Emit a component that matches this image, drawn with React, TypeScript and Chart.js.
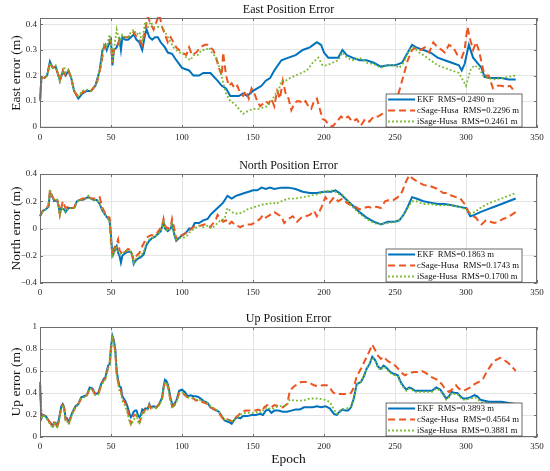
import React, { useEffect, useRef } from 'react';
import { Chart, registerables } from 'chart.js';

Chart.register(...registerables);

const FONT = "'Liberation Serif', 'Times New Roman', serif";
const BLUE = '#0072BD';
const ORANGE = '#EC5420';
const GREEN = '#77B82C';
const AXIS = '#6e6e6e';
const GRID = '#e4e4e4';
const TEXT = '#262626';

const seriesNames = ['EKF', 'cSage-Husa', 'iSage-Husa'];
const xTicks = [0, 50, 100, 150, 200, 250, 300, 350];
const eastTicks = [0, 0.1, 0.2, 0.3, 0.4];
const northTicks = [-0.4, -0.2, 0, 0.2, 0.4];
const upTicks = [0, 0.2, 0.4, 0.6, 0.8, 1];

const eastRms = [0.249, 0.2296, 0.2461];
const northRms = [0.1863, 0.1743, 0.17];
const upRms = [0.3893, 0.4564, 0.3881];

// [epoch, error in m]
const eastEkf: [number, number][] = [[0,0.1],[1,0.19],[3,0.19],[5,0.2],[7,0.255],[9,0.23],[11,0.235],[13,0.2],[14,0.18],[16,0.215],[18,0.2],[20,0.22],[22,0.19],[24,0.14],[26,0.12],[27,0.11],[30,0.13],[33,0.14],[36,0.14],[39,0.16],[42,0.22],[44,0.3],[46,0.32],[47,0.3],[49,0.33],[50,0.34],[51,0.24],[52,0.3],[54,0.31],[56,0.34],[57,0.3],[58,0.35],[60,0.34],[62,0.34],[64,0.35],[66,0.36],[68,0.34],[70,0.33],[72,0.3],[74,0.36],[75,0.38],[77,0.35],[79,0.34],[81,0.35],[83,0.35],[85,0.33],[88,0.31],[90,0.29],[93,0.285],[96,0.26],[100,0.23],[105,0.22],[108,0.2],[112,0.2],[115,0.21],[120,0.21],[125,0.18],[128,0.16],[131,0.15],[134,0.12],[137,0.12],[140,0.12],[143,0.13],[146,0.12],[150,0.14],[153,0.15],[156,0.16],[159,0.18],[162,0.19],[165,0.22],[170,0.26],[175,0.27],[180,0.28],[185,0.3],[190,0.31],[195,0.33],[198,0.32],[200,0.29],[203,0.27],[206,0.27],[210,0.27],[213,0.3],[216,0.28],[220,0.27],[225,0.26],[230,0.26],[235,0.25],[240,0.235],[245,0.24],[250,0.24],[255,0.25],[258,0.28],[262,0.32],[265,0.31],[270,0.3],[275,0.29],[280,0.27],[285,0.26],[290,0.25],[295,0.24],[297,0.22],[299,0.245],[302,0.32],[305,0.27],[308,0.25],[311,0.23],[313,0.195],[317,0.19],[320,0.19],[325,0.19],[330,0.185],[335,0.185]];
const eastCsage: [number, number][] = [[0,0.1],[1,0.19],[3,0.19],[5,0.2],[7,0.25],[9,0.23],[11,0.235],[13,0.2],[14,0.18],[16,0.22],[18,0.2],[20,0.22],[22,0.19],[24,0.14],[27,0.115],[30,0.135],[33,0.14],[36,0.14],[40,0.17],[43,0.24],[45,0.31],[47,0.33],[49,0.34],[50,0.33],[51,0.25],[52,0.3],[54,0.31],[56,0.34],[58,0.35],[60,0.35],[62,0.35],[64,0.36],[66,0.37],[68,0.35],[70,0.34],[72,0.32],[74,0.38],[76,0.43],[78,0.4],[80,0.38],[82,0.41],[84,0.44],[86,0.39],[88,0.36],[90,0.33],[92,0.35],[94,0.33],[96,0.31],[98,0.3],[100,0.29],[103,0.28],[105,0.31],[107,0.28],[110,0.29],[113,0.31],[116,0.32],[118,0.32],[120,0.31],[122,0.3],[124,0.27],[126,0.23],[128,0.2],[129,0.29],[131,0.2],[133,0.16],[135,0.17],[137,0.15],[139,0.16],[141,0.13],[143,0.12],[145,0.14],[147,0.11],[149,0.15],[151,0.13],[153,0.1],[155,0.08],[157,0.09],[159,0.1],[161,0.09],[163,0.11],[165,0.08],[167,0.14],[169,0.11],[171,0.18],[173,0.13],[175,0.11],[177,0.065],[179,0.09],[181,0.1],[183,0.1],[185,0.09],[187,0.1],[189,0.08],[191,0.07],[193,0.1],[195,0.11],[197,0.07],[199,0.03],[201,0.025],[203,0.01],[206,0],[209,0.02],[212,0.04],[214,0.03],[217,0.04],[220,0.02],[223,0.03],[226,0.005],[229,0.03],[232,0.02],[235,0.04],[238,0.04],[241,0.05],[244,0.06],[247,0.07],[250,0.09],[253,0.14],[256,0.2],[259,0.26],[262,0.3],[265,0.31],[268,0.3],[271,0.31],[274,0.29],[277,0.33],[280,0.31],[283,0.3],[285,0.29],[288,0.32],[291,0.31],[294,0.28],[297,0.27],[299,0.3],[301,0.39],[303,0.34],[305,0.3],[307,0.33],[309,0.3],[311,0.25],[313,0.2],[316,0.2],[319,0.15],[322,0.16],[325,0.16],[328,0.155],[331,0.16],[334,0.14]];
const eastIsage: [number, number][] = [[0,0.1],[1,0.19],[3,0.19],[5,0.2],[7,0.25],[9,0.23],[11,0.24],[13,0.2],[14,0.18],[17,0.235],[18,0.21],[20,0.22],[22,0.19],[24,0.14],[27,0.12],[30,0.14],[33,0.145],[36,0.14],[40,0.17],[43,0.25],[45,0.32],[47,0.31],[49,0.36],[50,0.33],[51,0.25],[52,0.3],[54,0.38],[56,0.33],[58,0.36],[60,0.35],[62,0.35],[64,0.37],[66,0.38],[68,0.36],[70,0.37],[72,0.33],[74,0.41],[76,0.39],[78,0.41],[80,0.39],[83,0.39],[86,0.39],[88,0.37],[90,0.35],[92,0.33],[94,0.31],[96,0.3],[98,0.29],[100,0.29],[103,0.27],[106,0.26],[108,0.28],[111,0.28],[114,0.3],[117,0.3],[119,0.31],[121,0.29],[124,0.27],[127,0.22],[129,0.17],[131,0.13],[134,0.1],[137,0.09],[140,0.07],[143,0.05],[146,0.06],[150,0.07],[154,0.07],[157,0.075],[160,0.08],[163,0.1],[166,0.13],[168,0.14],[170,0.18],[173,0.18],[176,0.19],[180,0.2],[184,0.21],[188,0.22],[192,0.25],[196,0.27],[199,0.24],[202,0.24],[206,0.25],[210,0.26],[213,0.29],[216,0.27],[220,0.26],[225,0.27],[230,0.25],[235,0.245],[240,0.23],[245,0.24],[250,0.24],[253,0.23],[256,0.25],[260,0.3],[263,0.31],[267,0.29],[270,0.28],[275,0.26],[280,0.24],[285,0.23],[290,0.22],[295,0.21],[300,0.16],[303,0.22],[306,0.24],[309,0.23],[312,0.2],[315,0.19],[320,0.185],[325,0.19],[330,0.195],[335,0.2]];

const northEkf: [number, number][] = [[0,0.09],[2,0.13],[4,0.14],[6,0.16],[7,0.26],[8,0.25],[10,0.2],[12,0.21],[13,0.17],[14,0.11],[15,0.15],[17,0.14],[18,0.12],[20,0.15],[22,0.15],[24,0.15],[26,0.2],[28,0.21],[30,0.21],[32,0.22],[34,0.23],[36,0.22],[38,0.21],[40,0.21],[42,0.18],[44,0.13],[46,0.1],[48,0.07],[49,0.06],[50,-0.05],[51,-0.2],[52,-0.18],[53,-0.15],[54,-0.13],[55,-0.18],[56,-0.2],[57,-0.25],[58,-0.2],[60,-0.18],[62,-0.17],[64,-0.17],[65,-0.2],[66,-0.26],[67,-0.24],[69,-0.22],[71,-0.21],[73,-0.19],[75,-0.12],[77,-0.09],[79,-0.07],[81,-0.06],[83,-0.04],[85,-0.02],[87,0.05],[88,0],[90,-0.02],[92,0],[93,0.03],[95,-0.06],[96,-0.09],[98,-0.07],[100,-0.05],[103,-0.03],[105,0],[107,0],[109,0.04],[112,0.04],[115,0.06],[118,0.07],[120,0.1],[123,0.13],[126,0.16],[129,0.19],[132,0.24],[135,0.22],[138,0.24],[141,0.25],[144,0.26],[147,0.27],[150,0.28],[153,0.28],[156,0.3],[159,0.29],[162,0.3],[165,0.29],[170,0.3],[175,0.3],[180,0.29],[185,0.27],[190,0.26],[195,0.26],[200,0.27],[205,0.27],[208,0.28],[211,0.26],[214,0.23],[217,0.2],[220,0.17],[225,0.12],[230,0.08],[235,0.05],[240,0.03],[245,0.05],[250,0.05],[253,0.06],[256,0.1],[259,0.16],[262,0.23],[265,0.22],[270,0.2],[275,0.19],[280,0.18],[285,0.18],[290,0.17],[295,0.16],[300,0.15],[303,0.09],[306,0.1],[310,0.12],[315,0.14],[320,0.16],[325,0.18],[330,0.2],[335,0.22]];
const northCsage: [number, number][] = [[0,0.09],[2,0.13],[4,0.14],[6,0.17],[7,0.28],[8,0.25],[10,0.21],[12,0.22],[13,0.17],[14,0.1],[16,0.2],[18,0.15],[20,0.16],[22,0.15],[24,0.15],[26,0.2],[28,0.21],[30,0.22],[32,0.22],[34,0.23],[36,0.22],[38,0.22],[40,0.22],[42,0.23],[44,0.15],[47,0.09],[49,0.08],[50,-0.1],[51,-0.2],[52,-0.15],[54,-0.11],[55,-0.08],[56,-0.16],[58,-0.19],[60,-0.17],[62,-0.15],[64,-0.16],[66,-0.23],[68,-0.2],[70,-0.18],[72,-0.13],[74,-0.09],[76,-0.06],[78,-0.05],[80,-0.05],[82,-0.04],[84,-0.01],[86,0.02],[87,0.07],[88,0.02],[90,0],[92,0.01],[93,0.07],[95,-0.02],[96,-0.08],[98,-0.05],[100,-0.05],[102,-0.04],[104,-0.01],[106,-0.01],[108,0.01],[110,0.02],[113,0.02],[116,0.03],[118,0.02],[120,0.01],[122,0.04],[124,0.07],[125,0.1],[127,0.07],[129,0.05],[131,0.06],[133,0.03],[135,0.05],[137,0.03],[139,0.02],[141,0.01],[143,0.02],[146,0.03],[149,0.03],[152,0.05],[155,0.07],[157,0.1],[159,0.08],[162,0.1],[165,0.12],[168,0.1],[170,0.09],[172,0.04],[175,0.07],[178,0.09],[181,0.05],[184,0.08],[187,0.09],[190,0.1],[193,0.13],[195,0.09],[198,0.15],[201,0.23],[204,0.19],[207,0.23],[210,0.2],[213,0.22],[216,0.19],[219,0.17],[222,0.16],[225,0.14],[228,0.15],[231,0.16],[234,0.15],[237,0.16],[240,0.15],[243,0.2],[246,0.21],[249,0.21],[252,0.23],[255,0.27],[258,0.35],[260,0.39],[262,0.37],[265,0.35],[270,0.32],[275,0.31],[280,0.29],[284,0.26],[287,0.26],[290,0.24],[293,0.23],[296,0.22],[299,0.18],[302,0.12],[305,0.09],[307,0.08],[309,0.05],[311,0.03],[314,0.06],[317,0.05],[320,0.04],[323,0.05],[326,0.07],[329,0.08],[332,0.1],[335,0.12]];
const northIsage: [number, number][] = [[0,0.09],[2,0.13],[4,0.14],[6,0.17],[7,0.29],[8,0.25],[10,0.21],[12,0.21],[13,0.17],[14,0.1],[15,0.15],[17,0.14],[18,0.12],[20,0.15],[22,0.15],[24,0.15],[26,0.2],[28,0.21],[30,0.21],[32,0.22],[34,0.24],[36,0.22],[38,0.21],[40,0.21],[42,0.18],[44,0.13],[46,0.1],[48,0.07],[49,0.06],[50,-0.08],[51,-0.21],[52,-0.18],[53,-0.15],[54,-0.13],[55,-0.17],[56,-0.19],[58,-0.18],[60,-0.17],[62,-0.16],[64,-0.17],[65,-0.2],[66,-0.25],[67,-0.23],[69,-0.21],[71,-0.2],[73,-0.17],[75,-0.11],[77,-0.08],[79,-0.07],[81,-0.06],[83,-0.04],[85,-0.02],[87,0.06],[88,0.01],[90,-0.02],[92,0],[93,0.04],[95,-0.05],[96,-0.08],[98,-0.07],[100,-0.07],[103,-0.06],[106,-0.02],[109,0],[112,0.02],[115,0.01],[118,0.02],[121,0],[124,0.03],[127,0.06],[130,0.07],[132,0.15],[134,0.13],[137,0.11],[140,0.11],[143,0.12],[146,0.14],[149,0.15],[152,0.16],[155,0.17],[158,0.18],[161,0.18],[164,0.19],[166,0.18],[170,0.2],[175,0.22],[180,0.22],[185,0.23],[190,0.24],[195,0.25],[200,0.27],[205,0.28],[208,0.27],[211,0.25],[214,0.24],[217,0.2],[220,0.16],[225,0.11],[230,0.07],[235,0.04],[240,0.03],[245,0.04],[250,0.05],[253,0.06],[256,0.1],[259,0.15],[262,0.2],[265,0.2],[270,0.18],[275,0.18],[280,0.17],[285,0.17],[290,0.17],[295,0.16],[300,0.14],[303,0.11],[306,0.12],[310,0.15],[315,0.18],[320,0.2],[325,0.22],[330,0.24],[335,0.26]];

const upEkf: [number, number][] = [[0,0.49],[1,0.17],[2,0.2],[4,0.19],[6,0.15],[8,0.12],[9,0.1],[10,0.13],[11,0.13],[12,0.1],[13,0.14],[15,0.28],[16,0.3],[17,0.27],[18,0.17],[19,0.17],[20,0.14],[21,0.16],[23,0.23],[25,0.28],[27,0.3],[29,0.36],[31,0.37],[33,0.38],[35,0.45],[37,0.44],[39,0.39],[41,0.4],[43,0.48],[45,0.53],[46,0.54],[47,0.6],[48,0.65],[49,0.66],[50,0.82],[51,0.92],[52,0.88],[53,0.8],[54,0.6],[55,0.52],[56,0.46],[57,0.45],[58,0.37],[59,0.35],[60,0.33],[61,0.3],[62,0.26],[63,0.21],[64,0.18],[65,0.2],[66,0.23],[67,0.24],[68,0.24],[69,0.2],[70,0.18],[71,0.2],[72,0.25],[73,0.24],[74,0.26],[76,0.26],[77,0.3],[78,0.27],[80,0.28],[82,0.27],[84,0.3],[86,0.36],[87,0.45],[88,0.52],[89,0.51],[90,0.48],[91,0.42],[92,0.35],[93,0.3],[94,0.29],[96,0.33],[98,0.42],[100,0.43],[102,0.41],[104,0.37],[106,0.38],[108,0.37],[110,0.37],[112,0.36],[114,0.34],[116,0.32],[118,0.31],[120,0.27],[123,0.25],[126,0.23],[128,0.19],[130,0.15],[132,0.14],[134,0.13],[135,0.12],[137,0.16],[139,0.18],[141,0.17],[143,0.19],[146,0.19],[149,0.2],[152,0.2],[155,0.21],[157,0.2],[159,0.24],[161,0.25],[163,0.22],[165,0.24],[168,0.24],[171,0.23],[174,0.23],[177,0.24],[180,0.25],[183,0.25],[186,0.27],[189,0.27],[192,0.27],[195,0.28],[198,0.27],[201,0.28],[204,0.26],[207,0.21],[209,0.2],[211,0.23],[213,0.25],[215,0.24],[217,0.24],[219,0.27],[221,0.35],[223,0.48],[226,0.5],[228,0.55],[230,0.62],[232,0.66],[234,0.73],[236,0.7],[238,0.64],[240,0.62],[242,0.65],[244,0.63],[246,0.6],[248,0.58],[250,0.57],[252,0.56],[254,0.5],[256,0.46],[258,0.43],[260,0.45],[262,0.44],[264,0.42],[267,0.42],[270,0.42],[273,0.42],[276,0.42],[279,0.45],[282,0.43],[284,0.39],[286,0.35],[288,0.37],[290,0.41],[292,0.4],[294,0.4],[296,0.37],[298,0.35],[300,0.35],[303,0.36],[306,0.38],[308,0.37],[310,0.34],[313,0.33],[316,0.32],[320,0.32],[325,0.32],[330,0.31],[335,0.3]];
const upCsage: [number, number][] = [[0,0.5],[1,0.18],[2,0.2],[4,0.19],[6,0.15],[8,0.11],[9,0.09],[10,0.13],[11,0.12],[12,0.08],[13,0.13],[15,0.27],[16,0.29],[17,0.26],[18,0.16],[19,0.16],[20,0.12],[21,0.15],[23,0.22],[25,0.27],[27,0.3],[29,0.35],[31,0.37],[33,0.38],[35,0.44],[37,0.43],[39,0.38],[41,0.39],[43,0.47],[45,0.52],[46,0.53],[47,0.58],[48,0.63],[49,0.65],[50,0.8],[51,0.9],[52,0.87],[53,0.78],[54,0.58],[55,0.5],[56,0.44],[57,0.42],[58,0.35],[59,0.33],[60,0.31],[61,0.28],[62,0.22],[63,0.16],[64,0.12],[65,0.15],[66,0.2],[67,0.2],[68,0.2],[69,0.15],[70,0.13],[71,0.17],[72,0.22],[73,0.22],[74,0.25],[76,0.25],[77,0.29],[78,0.26],[80,0.27],[82,0.27],[84,0.3],[86,0.35],[87,0.44],[88,0.51],[89,0.5],[90,0.46],[91,0.4],[92,0.33],[93,0.28],[94,0.28],[96,0.32],[98,0.4],[100,0.41],[102,0.38],[104,0.36],[106,0.36],[108,0.35],[110,0.33],[112,0.34],[114,0.32],[116,0.31],[118,0.3],[120,0.27],[123,0.25],[126,0.22],[128,0.18],[130,0.15],[132,0.16],[134,0.15],[136,0.14],[138,0.18],[140,0.2],[142,0.23],[145,0.24],[148,0.24],[151,0.24],[154,0.25],[156,0.23],[158,0.27],[160,0.29],[163,0.27],[165,0.29],[168,0.28],[171,0.27],[174,0.3],[176,0.42],[178,0.45],[181,0.48],[184,0.5],[187,0.5],[190,0.49],[193,0.47],[196,0.46],[199,0.47],[202,0.47],[204,0.45],[206,0.41],[208,0.39],[211,0.39],[214,0.39],[217,0.39],[219,0.4],[221,0.45],[223,0.55],[226,0.62],[229,0.7],[232,0.78],[234,0.84],[236,0.79],[238,0.74],[240,0.71],[242,0.73],[245,0.69],[248,0.67],[251,0.64],[254,0.59],[257,0.56],[260,0.58],[263,0.59],[266,0.59],[269,0.6],[272,0.58],[275,0.55],[278,0.53],[280,0.52],[283,0.48],[285,0.44],[288,0.41],[291,0.44],[293,0.47],[295,0.44],[298,0.42],[300,0.43],[303,0.45],[306,0.48],[309,0.5],[312,0.53],[315,0.6],[318,0.66],[321,0.7],[324,0.72],[327,0.7],[330,0.67],[333,0.63],[335,0.6]];
const upIsage: [number, number][] = [[0,0.49],[1,0.17],[2,0.2],[4,0.18],[6,0.14],[8,0.1],[9,0.08],[10,0.12],[11,0.12],[12,0.08],[13,0.12],[15,0.26],[16,0.29],[17,0.25],[18,0.15],[19,0.15],[20,0.11],[21,0.14],[23,0.22],[25,0.27],[27,0.29],[29,0.35],[31,0.36],[33,0.37],[35,0.44],[37,0.43],[39,0.38],[41,0.38],[43,0.46],[45,0.51],[46,0.52],[47,0.57],[48,0.63],[49,0.64],[50,0.8],[51,0.9],[52,0.86],[53,0.77],[54,0.56],[55,0.48],[56,0.42],[57,0.4],[58,0.33],[59,0.31],[60,0.28],[61,0.24],[62,0.2],[63,0.14],[64,0.11],[65,0.13],[66,0.15],[67,0.19],[68,0.2],[69,0.14],[70,0.12],[71,0.15],[72,0.21],[73,0.21],[74,0.24],[76,0.25],[77,0.28],[78,0.26],[80,0.27],[82,0.26],[84,0.29],[86,0.34],[87,0.43],[88,0.5],[89,0.49],[90,0.45],[91,0.39],[92,0.32],[93,0.27],[94,0.27],[96,0.31],[98,0.39],[100,0.41],[102,0.38],[104,0.36],[106,0.36],[108,0.35],[110,0.34],[112,0.34],[114,0.33],[116,0.32],[118,0.31],[120,0.28],[123,0.26],[126,0.23],[128,0.19],[130,0.16],[132,0.16],[134,0.15],[136,0.14],[138,0.17],[140,0.19],[142,0.21],[145,0.22],[148,0.22],[151,0.22],[154,0.23],[156,0.22],[158,0.26],[160,0.27],[163,0.25],[166,0.27],[168,0.28],[171,0.28],[174,0.29],[176,0.34],[180,0.33],[185,0.33],[190,0.35],[195,0.35],[200,0.34],[204,0.32],[207,0.25],[209,0.21],[212,0.25],[216,0.26],[219,0.28],[221,0.36],[223,0.48],[226,0.5],[228,0.55],[230,0.62],[232,0.66],[234,0.72],[236,0.69],[238,0.63],[240,0.61],[242,0.64],[244,0.62],[246,0.59],[248,0.57],[250,0.56],[252,0.55],[254,0.49],[256,0.45],[258,0.42],[260,0.44],[262,0.43],[264,0.41],[267,0.41],[270,0.41],[273,0.41],[276,0.41],[279,0.44],[282,0.42],[284,0.38],[286,0.34],[288,0.36],[290,0.4],[292,0.39],[294,0.39],[296,0.36],[298,0.34],[300,0.34],[303,0.35],[306,0.36],[308,0.35],[310,0.32],[313,0.31],[316,0.3],[320,0.29],[325,0.3],[330,0.3],[335,0.29]];

type Pts = [number, number][];

interface PanelProps {
    title: string;
    yLabel: string;
    yMin: number;
    yMax: number;
    yTicks: number[];
    series: Pts[];
    rms: number[];
    xTitle?: string;
    top: number;
    height: number;
    padTop: number;
    xAxisH: number;
}

const fmt = (v: number) => String(Math.round(v * 10) / 10).replace('-', '\u2212');

function Panel(props: PanelProps) {
    const canvas = useRef<HTMLCanvasElement>(null);
    const { title, yLabel, yMin, yMax, yTicks, series, rms, xTitle, top, height, padTop, xAxisH } = props;

    useEffect(() => {
        const styles = [
            { color: BLUE, width: 2, dash: [] as number[], order: 3 },
            { color: ORANGE, width: 2, dash: [7, 4], order: 2 },
            { color: GREEN, width: 1.8, dash: [1.8, 2.2], order: 1 },
        ];

        const frame = {
            id: 'frame',
            afterDatasetsDraw(chart: any) {
                const { ctx, chartArea: a, scales } = chart;
                ctx.save();
                ctx.strokeStyle = AXIS;
                ctx.lineWidth = 1;
                ctx.strokeRect(a.left + 0.5, a.top + 0.5, a.width - 1, a.height - 1);
                ctx.beginPath();
                xTicks.forEach((v) => {
                    const px = Math.round(scales.x.getPixelForValue(v)) + 0.5;
                    ctx.moveTo(px, a.bottom); ctx.lineTo(px, a.bottom - 3);
                    ctx.moveTo(px, a.top); ctx.lineTo(px, a.top + 3);
                });
                yTicks.forEach((v) => {
                    const py = Math.round(scales.y.getPixelForValue(v)) + 0.5;
                    ctx.moveTo(a.left, py); ctx.lineTo(a.left + 3, py);
                    ctx.moveTo(a.right, py); ctx.lineTo(a.right - 3, py);
                });
                ctx.stroke();

                // title
                ctx.fillStyle = '#111';
                ctx.font = `12px ${FONT}`;
                ctx.textAlign = 'center';
                ctx.textBaseline = 'middle';
                ctx.fillText(title, (a.left + a.right) / 2, a.top - 8);

                // legend, bottom right inside the axes
                ctx.font = `8.7px ${FONT}`;
                const labels = seriesNames.map((n, i) => `${n}  RMS=${rms[i].toFixed(4)} m`);
                const tw = Math.max(...labels.map((l) => ctx.measureText(l).width));
                const lineLen = 27;
                const w = 2 + lineLen + 2 + tw + 3;
                const h = 33;
                const right = a.right - 15;
                const bottom = a.bottom - 1;
                const lx = right - w;
                const ly = bottom - h;
                ctx.fillStyle = '#fff';
                ctx.fillRect(lx, ly, w, h);
                ctx.strokeStyle = '#444';
                ctx.lineWidth = 0.8;
                ctx.strokeRect(lx, ly, w, h);
                labels.forEach((l, i) => {
                    const yy = ly + 5.5 + i * 11;
                    ctx.beginPath();
                    ctx.strokeStyle = styles[i].color;
                    ctx.lineWidth = styles[i].width;
                    ctx.setLineDash(styles[i].dash);
                    ctx.moveTo(lx + 2, yy);
                    ctx.lineTo(lx + 2 + lineLen, yy);
                    ctx.stroke();
                    ctx.setLineDash([]);
                    ctx.fillStyle = '#111';
                    ctx.textAlign = 'left';
                    ctx.fillText(l, lx + 4 + lineLen, yy + 0.5);
                });
                ctx.restore();
            },
        };

        const chart = new Chart(canvas.current as HTMLCanvasElement, {
            type: 'line',
            data: {
                datasets: series.map((s, i) => ({
                    label: seriesNames[i],
                    data: s.map(([x, y]) => ({ x, y })),
                    borderColor: styles[i].color,
                    borderWidth: styles[i].width,
                    borderDash: styles[i].dash,
                    order: styles[i].order,
                    pointRadius: 0,
                    tension: 0,
                    clip: 1,
                })),
            },
            options: {
                animation: false,
                responsive: true,
                maintainAspectRatio: false,
                layout: { padding: { top: padTop, right: 13, bottom: 0, left: 0 } },
                plugins: { legend: { display: false }, tooltip: { enabled: false } },
                scales: {
                    x: {
                        type: 'linear',
                        min: 0,
                        max: 350,
                        afterBuildTicks: (s: any) => { s.ticks = xTicks.map((v) => ({ value: v })); },
                        afterFit: (s: any) => { s.height = xAxisH; },
                        grid: { color: GRID, drawTicks: false },
                        border: { display: false },
                        ticks: { font: { family: FONT, size: 9 }, color: TEXT, padding: 4, maxRotation: 0, autoSkip: false },
                        title: {
                            display: !!xTitle,
                            text: xTitle || '',
                            font: { family: FONT, size: 13.5 },
                            color: '#111',
                            padding: { top: 0, bottom: 3 },
                        },
                    },
                    y: {
                        type: 'linear',
                        min: yMin,
                        max: yMax,
                        afterBuildTicks: (s: any) => { s.ticks = yTicks.map((v) => ({ value: v })); },
                        afterFit: (s: any) => { s.width = 40; },
                        grid: { color: GRID, drawTicks: false },
                        border: { display: false },
                        ticks: {
                            font: { family: FONT, size: 9 },
                            color: TEXT,
                            padding: 3,
                            callback: (v: any) => fmt(Number(v)),
                        },
                        title: {
                            display: true,
                            text: yLabel,
                            font: { family: FONT, size: 13.5 },
                            color: '#111',
                            padding: { top: 8, bottom: 0 },
                        },
                    },
                },
            },
            plugins: [frame],
        });
        return () => {
            chart.destroy();
        };
    }, []);

    return (
        <div style={{ position: 'absolute', left: 0, top, width: 550, height }}>
            <canvas ref={canvas} />
        </div>
    );
}

export default function App() {
    return (
        <div style={{ position: 'absolute', left: 0, top: 0, width: 550, height: 471, background: '#fff' }}>
            <Panel title="East Position Error" yLabel="East error (m)" yMin={-0.005} yMax={0.425} yTicks={eastTicks}
                series={[eastEkf, eastCsage, eastIsage]} rms={eastRms} top={0} height={150} padTop={18} xAxisH={22} />
            <Panel title="North Position Error" yLabel="North error (m)" yMin={-0.4} yMax={0.4} yTicks={northTicks}
                series={[northEkf, northCsage, northIsage]} rms={northRms} top={150} height={155} padTop={24} xAxisH={22} />
            <Panel title="Up Position Error" yLabel="Up error (m)" yMin={0} yMax={1} yTicks={upTicks}
                series={[upEkf, upCsage, upIsage]} rms={upRms} xTitle="Epoch" top={305} height={166} padTop={22} xAxisH={34} />
        </div>
    );
}
